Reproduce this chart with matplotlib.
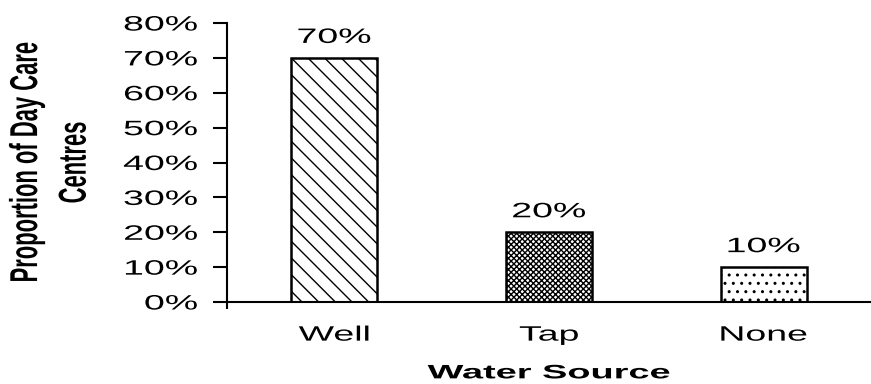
import matplotlib
matplotlib.use("Agg")
import matplotlib.pyplot as plt
from matplotlib.patheffects import AbstractPathEffect
from matplotlib.ticker import PercentFormatter
from matplotlib.transforms import Affine2D

sources = ["Well", "Tap", "None"]
proportions = [70, 20, 10]
hatches = ["\\\\", "xxxxxx", ".."]
yticks = [0, 10, 20, 30, 40, 50, 60, 70, 80]


# the original text is squeezed/stretched sideways, no font does that so scale the glyph paths
class Stretch(AbstractPathEffect):
	def __init__(self, sx, anchor="center"):
		super().__init__()
		self.sx = sx
		self.anchor = anchor

	def draw_path(self, renderer, gc, tpath, affine, rgbFace=None):
		ext = tpath.get_extents()
		if self.anchor == "right":
			x0 = ext.x1
		else:
			x0 = (ext.x0 + ext.x1) / 2
		t = Affine2D().translate(-x0, 0).scale(self.sx, 1).translate(x0, 0)
		renderer.draw_path(gc, tpath, t + affine, rgbFace)


def main():
	plt.rcParams["font.family"] = ["Liberation Sans", "DejaVu Sans"]
	plt.rcParams["hatch.linewidth"] = 1.0

	fig = plt.figure(figsize=(8.71, 3.84), dpi=100)
	ax = fig.add_axes([0.2606, 0.2135, 0.7394, 0.7265])

	bars = ax.bar(range(len(sources)), proportions, width=0.4,
		color="white", edgecolor="black", linewidth=1.8)
	for b, h in zip(bars, hatches):
		b.set_hatch(h)

	wide = [Stretch(1.8)]
	for i, v in enumerate(proportions):
		ax.text(i, v + 4.3, f"{v}%", ha="center", va="baseline", fontsize=15,
			path_effects=wide)

	ax.set_xlim(-0.5, 2.5)
	ax.set_ylim(0, 80)
	ax.set_yticks(yticks)
	ax.yaxis.set_major_formatter(PercentFormatter(decimals=0))
	ax.tick_params(axis="y", labelsize=15, length=10, width=1.5, pad=11)
	for lbl in ax.get_yticklabels():
		lbl.set_path_effects([Stretch(1.8, "right")])

	ax.set_xticks(range(len(sources)))
	ax.set_xticklabels(sources, fontsize=15)
	ax.tick_params(axis="x", which="major", length=0, pad=17)
	for lbl in ax.get_xticklabels():
		lbl.set_path_effects(wide)
	ax.set_xticks([-0.5], minor=True)
	ax.tick_params(axis="x", which="minor", length=5, width=1.5)

	for s in ["top", "right"]:
		ax.spines[s].set_visible(False)
	ax.spines["left"].set_linewidth(1.5)
	ax.spines["bottom"].set_linewidth(1.5)

	ax.set_xlabel("Water Source", fontsize=14, fontweight="bold",
		path_effects=[Stretch(1.95)])
	ax.xaxis.set_label_coords(0.5, -0.227)

	ax.set_ylabel("Proportion of Day Care\nCentres", fontsize=28, fontweight="bold",
		linespacing=1.45, path_effects=[Stretch(0.565)])
	ax.yaxis.set_label_coords(-0.207, 0.5)

	fig.savefig("out.png", dpi=100)

if __name__ == "__main__":
	main()
